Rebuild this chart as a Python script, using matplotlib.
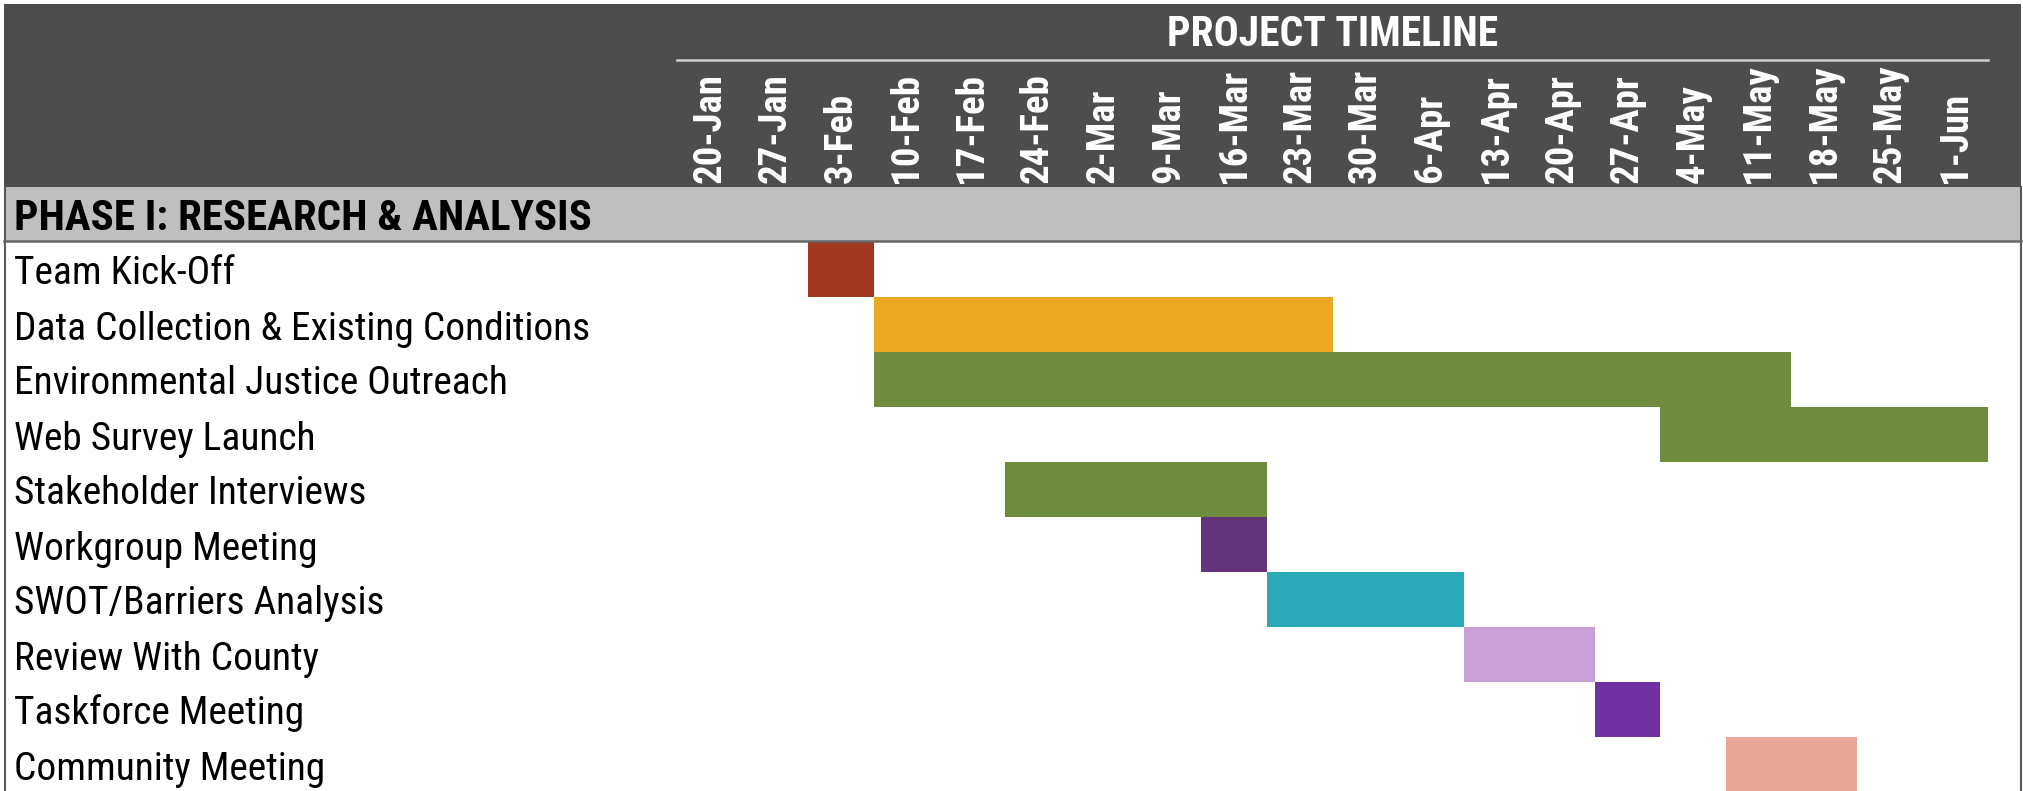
import matplotlib
matplotlib.use('Agg')
import matplotlib.pyplot as plt
from matplotlib.patches import Rectangle
from matplotlib import font_manager as fm

# ---------------- data ----------------
weeks = ['20-Jan', '27-Jan', '3-Feb', '10-Feb', '17-Feb', '24-Feb', '2-Mar', '9-Mar',
         '16-Mar', '23-Mar', '30-Mar', '6-Apr', '13-Apr', '20-Apr', '27-Apr', '4-May',
         '11-May', '18-May', '25-May', '1-Jun']
phase_title = 'PHASE I: RESEARCH & ANALYSIS'
timeline_title = 'PROJECT TIMELINE'
tasks = ['Team Kick-Off', 'Data Collection & Existing Conditions',
         'Environmental Justice Outreach', 'Web Survey Launch', 'Stakeholder Interviews',
         'Workgroup Meeting', 'SWOT/Barriers Analysis', 'Review With County',
         'Taskforce Meeting', 'Community Meeting']
start_week = [2, 3, 3, 15, 5, 8, 9, 12, 14, 16]
duration_weeks = [1, 7, 14, 5, 4, 1, 3, 2, 1, 2]
bar_colors = ['#A33821', '#EBA823', '#6F8B3E', '#6F8B3E', '#6F8B3E',
              '#633479', '#2CA9B9', '#C6A0D6', '#7231A0', '#E9A797']

# ---------------- fonts ----------------
def has_font(name):
    try:
        fm.findfont(fm.FontProperties(family=name), fallback_to_default=False)
        return True
    except Exception:
        return False

if has_font('Roboto Condensed'):
    FAM = ['Roboto Condensed', 'DejaVu Sans']
    SZ_REG, SZ_PHASE, SZ_DATE, SZ_TITLE = 28.4, 31, 28, 30
else:
    FAM = ['Liberation Sans', 'DejaVu Sans']
    SZ_REG, SZ_PHASE, SZ_DATE, SZ_TITLE = 24.6, 24.6, 24.6, 24.6

# ---------------- layout ----------------
W, H = 2023, 791
fig = plt.figure(figsize=(W / 100, H / 100), dpi=100)
ax = fig.add_axes([0, 0, 1, 1])
X0, CW, Y0, RH = 677, 65.55, 242, 55


def px(x):
    return (x - X0) / CW


def py(y):
    return (y - Y0) / RH


ax.set_xlim(px(0), px(W))
ax.set_ylim(py(H), py(0))
ax.axis('off')

# header block
ax.add_patch(Rectangle((px(4), py(4)), px(2021) - px(4), py(187) - py(4),
                       facecolor='#4D4D4D', edgecolor='none'))
# phase row
ax.add_patch(Rectangle((px(4), -1), px(2021) - px(4), 1,
                       facecolor='#BFBFBF', edgecolor='none'))

# bars
ypos = [i + 0.5 for i in range(len(tasks))]
ax.barh(ypos, duration_weeks, left=start_week, height=1.0, color=bar_colors,
        edgecolor='none', zorder=2)

# borders
ax.plot([px(5), px(5)], [-1, py(H)], color='#595959', lw=1.5, zorder=3)
ax.plot([px(2020.5), px(2020.5)], [-1, py(H)], color='#595959', lw=1.5, zorder=3)
ax.plot([px(4), px(2021)], [py(240.5), py(240.5)], color='#666666', lw=1.8, zorder=3)

# timeline title and rule
n = len(weeks)
ax.text(n / 2, py(35), timeline_title, ha='center', va='center', color='white',
        fontsize=SZ_TITLE, fontweight='bold', family=FAM)
ax.plot([0, n], [py(60), py(60)], color='#CFCFCF', lw=1.8)

# week labels
for i, w in enumerate(weeks):
    ax.text(i + 0.5, py(183), w, rotation=90, ha='center', va='bottom',
            color='white', fontsize=SZ_DATE, fontweight='bold', family=FAM)

# phase label
ax.text(px(14), -0.5 + 15 / RH, phase_title, ha='left', va='baseline',
        color='black', fontsize=SZ_PHASE, fontweight='bold', family=FAM)

# task labels
for y, t in zip(ypos, tasks):
    ax.text(px(14), y + 15 / RH, t, ha='left', va='baseline', color='black',
            fontsize=SZ_REG, family=FAM)

fig.savefig('out.png', dpi=100, facecolor='white')
